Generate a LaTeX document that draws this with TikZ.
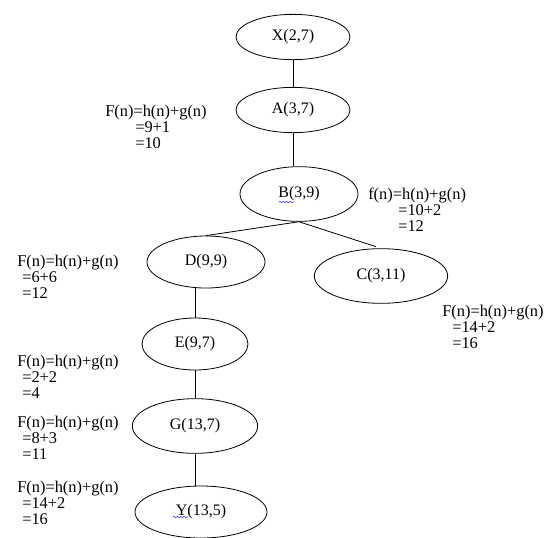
\documentclass[tikz,border=0pt]{standalone}
\usepackage{fontspec}
\setmainfont{Liberation Serif}
\usetikzlibrary{shapes.geometric,decorations.pathmorphing}

\begin{document}
\begin{tikzpicture}[x=0.75pt, y=-0.75pt,
  state/.style={ellipse, draw, line width=0.6pt, inner sep=0pt, font=\fontsize{12}{14}\selectfont},
  fn/.style={anchor=north west, align=left, inner sep=0pt, font=\fontsize{12.3}{12}\selectfont},
  edge/.style={line width=0.6pt},
  spell/.style={blue!80, line width=0.4pt, decorate, decoration={snake, amplitude=0.6pt, segment length=2.5pt}}]
  \useasboundingbox (0,0) rectangle (557,537);
  % search tree
  \node[state, minimum width=85.5pt, minimum height=34pt] (X) at (293,37) {X(2,7)};
  \node[state, minimum width=85.5pt, minimum height=34pt] (A) at (293,110) {A(3,7)};
  \node[state, minimum width=88.5pt, minimum height=41pt] (B) at (299,194) {B(3,9)};
  \node[state, minimum width=88.5pt, minimum height=39pt] (D) at (206,262) {D(9,9)};
  \node[state, minimum width=100pt, minimum height=41pt] (C) at (381,276) {C(3,11)};
  \node[state, minimum width=79.5pt, minimum height=39pt] (E) at (195,344) {E(9,7)};
  \node[state, minimum width=94pt, minimum height=41pt] (G) at (195,426) {G(13,7)};
  \node[state, minimum width=99pt, minimum height=39pt] (Y) at (201,512) {Y(13,5)};
  \draw[edge] (X) -- (A);
  \draw[edge] (A) -- (A |- B.north);
  \draw[edge] (B.south) -- (D.north);
  \draw[edge, shorten >=4pt] (B.south) -- (C.north);
  \draw[edge] (E) -- (E |- D.south);
  \draw[edge] (G) -- (G |- E.south);
  \draw[edge] (G) -- (G |- Y.north);
  % spell check marks
  \draw[spell] ([shift={(-20,8)}]B.center) -- ++(15,0);
  \draw[spell] ([shift={(-28,5)}]Y.center) -- ++(15,0);
  % f(n) values
  \node[fn] (fA) at (105,105) {F(n)=h(n)+g(n)\\\hspace*{22.5pt}=9+1\\\hspace*{22.5pt}=10};
  \node[fn] (fB) at (368,188) {f(n)=h(n)+g(n)\\\hspace*{22.5pt}=10+2\\\hspace*{22.5pt}=12};
  \node[fn] (fD) at (17,255) {F(n)=h(n)+g(n)\\\hspace*{3.75pt}=6+6\\\hspace*{3.75pt}=12};
  \node[fn] (fC) at (442,305) {F(n)=h(n)+g(n)\\\hspace*{7.5pt}=14+2\\\hspace*{7.5pt}=16};
  \node[fn] (fE) at (17,355) {F(n)=h(n)+g(n)\\\hspace*{3.75pt}=2+2\\\hspace*{3.75pt}=4};
  \node[fn] (fG) at (17,416) {F(n)=h(n)+g(n)\\\hspace*{3.75pt}=8+3\\\hspace*{3.75pt}=11};
  \node[fn] (fY) at (17,481) {F(n)=h(n)+g(n)\\\hspace*{3.75pt}=14+2\\\hspace*{3.75pt}=16};
\end{tikzpicture}
\end{document}
